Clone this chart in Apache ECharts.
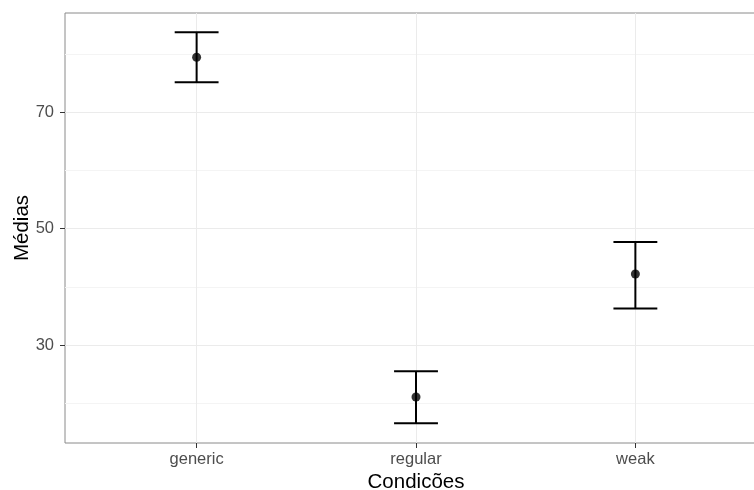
<!DOCTYPE html>
<html><head><meta charset="utf-8">
<script src="https://cdn.jsdelivr.net/npm/echarts@6/dist/echarts.min.js"></script>
<style>html,body{margin:0;padding:0;background:#fff}#c{width:754px;height:490px}</style>
</head><body><div id="c"></div>
<script>
const categories = ['generic', 'regular', 'weak'];
const means = [79.4, 21.1, 42.2];
const lower = [75.1, 16.6, 36.3];
const upper = [83.7, 25.5, 47.7];
const yTicks = [30, 50, 70];
const yMinorGrid = [20, 40, 60, 80];

const pos = categories.map((c, i) => i + 1);
const pointData = pos.map((x, i) => [x, means[i]]);
const barData = pos.map((x, i) => [x, lower[i], upper[i]]);

const chart = echarts.init(document.getElementById('c'));
const font = 'Liberation Sans, Arial, sans-serif';
chart.setOption({
  animation: false,
  grid: { left: 65, top: 13, width: 702, height: 430, containLabel: false, outerBoundsMode: 'none',
    show: true, borderColor: '#8a8a8a', borderWidth: 1, backgroundColor: '#fff' },
  xAxis: {
    type: 'value', min: 0.4, max: 3.6,
    name: 'Condicões', nameLocation: 'middle', nameGap: 29, nameMoveOverlap: false,
    nameTextStyle: { fontFamily: font, fontSize: 20.5, color: '#000' },
    axisLine: { show: false },
    axisTick: { show: true, length: 5, customValues: pos, lineStyle: { color: '#333' } },
    axisLabel: { customValues: pos, fontFamily: font, fontSize: 16.5, color: '#4d4d4d', margin: 8,
      formatter: v => categories[Math.round(v) - 1] || '' },
    splitLine: { show: true, lineStyle: { color: '#ebebeb', width: 1 } }
  },
  yAxis: [{
    type: 'value', min: 13.2, max: 87,
    name: 'Médias', nameLocation: 'middle', nameGap: 32, nameRotate: 90, nameMoveOverlap: false,
    nameTextStyle: { fontFamily: font, fontSize: 20.5, color: '#000' },
    axisLine: { show: false },
    axisTick: { show: true, length: 5, customValues: yTicks, lineStyle: { color: '#333' } },
    axisLabel: { customValues: yTicks, fontFamily: font, fontSize: 16.5, color: '#4d4d4d', margin: 11 },
    splitLine: { show: true, lineStyle: { color: '#ebebeb', width: 1 } }
  }, {
    type: 'value', min: 13.2, max: 87, position: 'left',
    axisLine: { show: false },
    axisTick: { show: false, customValues: yMinorGrid },
    axisLabel: { show: false, customValues: yMinorGrid },
    splitLine: { show: true, lineStyle: { color: '#f4f4f4', width: 1 } }
  }],
  series: [{
    type: 'custom',
    data: barData,
    z: 3,
    renderItem: function (params, api) {
      const x = api.value(0);
      const lo = api.coord([x, api.value(1)]);
      const hi = api.coord([x, api.value(2)]);
      const l = api.coord([x - 0.1, api.value(1)])[0];
      const r = api.coord([x + 0.1, api.value(1)])[0];
      const style = { stroke: '#000', lineWidth: 2 };
      return { type: 'group', children: [
        { type: 'line', shape: { x1: lo[0], y1: lo[1], x2: hi[0], y2: hi[1] }, style },
        { type: 'line', shape: { x1: l, y1: lo[1], x2: r, y2: lo[1] }, style },
        { type: 'line', shape: { x1: l, y1: hi[1], x2: r, y2: hi[1] }, style }
      ]};
    }
  }, {
    type: 'scatter', data: pointData, symbolSize: 9, z: 4,
    itemStyle: { color: '#000' }
  }]
});
</script></body></html>
